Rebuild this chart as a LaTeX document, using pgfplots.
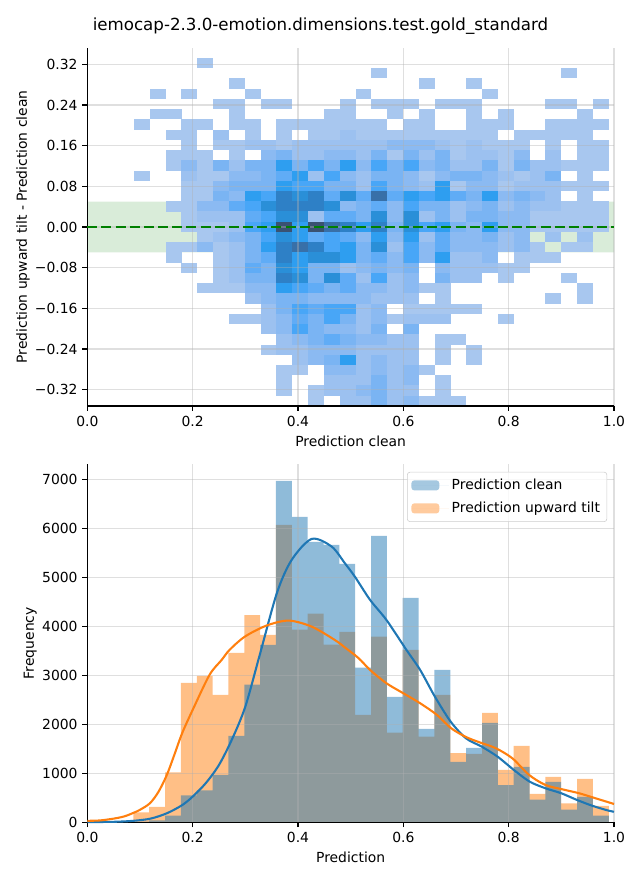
\documentclass[border=0pt]{standalone}
\usepackage{fontspec}
\setmainfont{DejaVu Sans}
\usepackage{pgfplots}
\pgfplotsset{compat=1.18}
\usepackage{pgfplotstable}

\definecolor{C0}{HTML}{1F77B4}
\definecolor{C1}{HTML}{FF7F0E}
\definecolor{C0h}{HTML}{8FBBD9}
\definecolor{C1h}{HTML}{FFBF86}
\definecolor{gridc}{HTML}{B0B0B0}
\definecolor{band}{HTML}{D9ECD9}
\definecolor{dgreen}{HTML}{008000}
\definecolor{La}{RGB}{168,199,239}
\definecolor{Lb}{RGB}{156,193,240}
\definecolor{Lc}{RGB}{139,186,242}
\definecolor{Ld}{RGB}{122,180,243}
\definecolor{Le}{RGB}{96,172,246}
\definecolor{Lf}{RGB}{72,166,247}
\definecolor{Lg}{RGB}{46,158,240}
\definecolor{Lh}{RGB}{42,143,216}
\definecolor{Li}{RGB}{46,128,198}
\definecolor{Lj}{RGB}{56,112,168}
\definecolor{Lk}{RGB}{58,82,114}

\pgfdeclareplotmark{cell}{\pgfpathrectangle{\pgfpoint{-5.72bp}{-3.71bp}}{\pgfpoint{11.44bp}{7.42bp}}\pgfusepathqfill}

\pgfplotstableread{
x y l
0.2239 0.3223 a
0.5543 0.3022 a
0.9148 0.3022 a
0.2840 0.2821 a
0.6444 0.2821 a
0.7345 0.2821 a
0.1338 0.2620 a
0.1939 0.2620 a
0.3140 0.2620 a
0.5243 0.2620 a
0.7646 0.2620 a
0.2539 0.2418 a
0.2840 0.2418 a
0.3440 0.2418 a
0.3741 0.2418 a
0.4942 0.2418 a
0.5543 0.2418 a
0.5843 0.2418 a
0.6144 0.2418 a
0.6745 0.2418 a
0.7045 0.2418 a
0.7345 0.2418 a
0.8847 0.2418 a
0.9148 0.2418 a
0.9748 0.2418 a
0.1338 0.2217 a
0.1638 0.2217 a
0.2840 0.2217 a
0.4642 0.2217 a
0.4942 0.2217 a
0.5843 0.2217 a
0.6444 0.2217 a
0.7345 0.2217 a
0.7946 0.2217 a
0.9448 0.2217 a
0.1037 0.2016 a
0.1939 0.2016 a
0.2239 0.2016 a
0.2840 0.2016 a
0.3140 0.2016 a
0.3741 0.2016 a
0.4041 0.2016 a
0.4342 0.2016 a
0.4642 0.2016 a
0.4942 0.2016 a
0.5243 0.2016 a
0.5543 0.2016 a
0.6144 0.2016 a
0.6444 0.2016 a
0.7345 0.2016 a
0.7646 0.2016 a
0.7946 0.2016 a
0.8847 0.2016 a
0.9148 0.2016 a
0.9448 0.2016 a
0.9748 0.2016 a
0.1638 0.1814 a
0.1939 0.1814 a
0.2539 0.1814 b
0.3140 0.1814 a
0.3741 0.1814 a
0.4342 0.1814 a
0.4642 0.1814 a
0.4942 0.1814 b
0.5243 0.1814 a
0.5543 0.1814 a
0.5843 0.1814 a
0.6144 0.1814 a
0.6444 0.1814 a
0.6745 0.1814 a
0.7045 0.1814 a
0.7345 0.1814 a
0.7646 0.1814 a
0.8247 0.1814 a
0.8547 0.1814 a
0.8847 0.1814 a
0.9148 0.1814 a
0.9448 0.1814 a
0.1939 0.1613 a
0.2539 0.1613 a
0.2840 0.1613 a
0.3140 0.1613 b
0.3440 0.1613 b
0.3741 0.1613 a
0.4041 0.1613 b
0.4342 0.1613 b
0.4642 0.1613 b
0.4942 0.1613 b
0.5243 0.1613 b
0.5543 0.1613 b
0.5843 0.1613 c
0.6144 0.1613 c
0.6444 0.1613 c
0.6745 0.1613 b
0.7045 0.1613 a
0.7345 0.1613 b
0.7646 0.1613 a
0.7946 0.1613 a
0.8247 0.1613 a
0.8847 0.1613 a
0.9448 0.1613 a
0.9748 0.1613 a
0.1638 0.1412 a
0.1939 0.1412 a
0.2239 0.1412 a
0.2840 0.1412 a
0.3440 0.1412 c
0.3741 0.1412 d
0.4041 0.1412 b
0.4342 0.1412 b
0.4642 0.1412 c
0.4942 0.1412 c
0.5243 0.1412 b
0.5543 0.1412 d
0.5843 0.1412 a
0.6144 0.1412 d
0.6444 0.1412 b
0.6745 0.1412 d
0.7045 0.1412 a
0.7345 0.1412 b
0.7646 0.1412 b
0.7946 0.1412 a
0.8247 0.1412 c
0.8847 0.1412 b
0.9448 0.1412 a
0.9748 0.1412 a
0.1638 0.1211 a
0.1939 0.1211 c
0.2239 0.1211 a
0.2539 0.1211 d
0.2840 0.1211 b
0.3140 0.1211 d
0.3440 0.1211 d
0.3741 0.1211 g
0.4041 0.1211 d
0.4342 0.1211 f
0.4642 0.1211 d
0.4942 0.1211 g
0.5243 0.1211 c
0.5543 0.1211 f
0.5843 0.1211 d
0.6144 0.1211 f
0.6444 0.1211 c
0.6745 0.1211 d
0.7045 0.1211 b
0.7345 0.1211 b
0.7646 0.1211 d
0.7946 0.1211 a
0.8247 0.1211 d
0.8547 0.1211 b
0.8847 0.1211 b
0.9148 0.1211 a
0.9448 0.1211 a
0.9748 0.1211 a
0.1037 0.1009 a
0.1939 0.1009 b
0.2239 0.1009 a
0.2539 0.1009 a
0.2840 0.1009 c
0.3140 0.1009 c
0.3440 0.1009 d
0.3741 0.1009 e
0.4041 0.1009 g
0.4342 0.1009 b
0.4642 0.1009 f
0.4942 0.1009 c
0.5243 0.1009 b
0.5543 0.1009 d
0.5843 0.1009 d
0.6144 0.1009 c
0.6444 0.1009 a
0.6745 0.1009 c
0.7045 0.1009 d
0.7345 0.1009 d
0.7646 0.1009 c
0.7946 0.1009 b
0.8247 0.1009 a
0.8547 0.1009 b
0.8847 0.1009 d
0.9448 0.1009 a
0.1939 0.0808 a
0.2239 0.0808 a
0.2539 0.0808 c
0.2840 0.0808 d
0.3140 0.0808 d
0.3440 0.0808 d
0.3741 0.0808 g
0.4041 0.0808 f
0.4342 0.0808 f
0.4642 0.0808 d
0.4942 0.0808 d
0.5243 0.0808 b
0.5543 0.0808 f
0.5843 0.0808 d
0.6144 0.0808 c
0.6444 0.0808 b
0.6745 0.0808 g
0.7045 0.0808 a
0.7345 0.0808 c
0.7646 0.0808 c
0.7946 0.0808 a
0.8247 0.0808 b
0.8547 0.0808 b
0.8847 0.0808 b
0.9148 0.0808 a
0.9448 0.0808 a
0.9748 0.0808 a
0.1939 0.0607 a
0.2239 0.0607 a
0.2539 0.0607 d
0.2840 0.0607 c
0.3140 0.0607 g
0.3440 0.0607 f
0.3741 0.0607 i
0.4041 0.0607 h
0.4342 0.0607 i
0.4642 0.0607 e
0.4942 0.0607 h
0.5243 0.0607 e
0.5543 0.0607 j
0.5843 0.0607 e
0.6144 0.0607 g
0.6444 0.0607 f
0.6745 0.0607 g
0.7045 0.0607 e
0.7345 0.0607 d
0.7646 0.0607 g
0.7946 0.0607 c
0.8247 0.0607 d
0.8547 0.0607 c
0.8847 0.0607 b
0.9448 0.0607 a
0.1638 0.0405 a
0.1939 0.0405 a
0.2239 0.0405 c
0.2539 0.0405 c
0.2840 0.0405 e
0.3140 0.0405 f
0.3440 0.0405 h
0.3741 0.0405 i
0.4041 0.0405 i
0.4342 0.0405 i
0.4642 0.0405 h
0.4942 0.0405 c
0.5243 0.0405 d
0.5543 0.0405 e
0.5843 0.0405 c
0.6144 0.0405 f
0.6444 0.0405 d
0.6745 0.0405 d
0.7045 0.0405 b
0.7345 0.0405 c
0.7646 0.0405 d
0.7946 0.0405 b
0.8247 0.0405 c
0.8547 0.0405 b
0.8847 0.0405 b
0.9148 0.0405 a
0.9448 0.0405 a
0.9748 0.0405 a
0.1939 0.0204 a
0.2239 0.0204 b
0.2539 0.0204 b
0.2840 0.0204 b
0.3140 0.0204 e
0.3440 0.0204 f
0.3741 0.0204 h
0.4041 0.0204 h
0.4342 0.0204 b
0.4642 0.0204 e
0.4942 0.0204 e
0.5243 0.0204 d
0.5543 0.0204 h
0.5843 0.0204 c
0.6144 0.0204 h
0.6444 0.0204 b
0.6745 0.0204 d
0.7045 0.0204 b
0.7345 0.0204 d
0.7646 0.0204 d
0.7946 0.0204 c
0.8247 0.0204 c
0.8547 0.0204 a
0.8847 0.0204 a
0.9148 0.0204 a
0.9448 0.0204 a
0.9748 0.0204 a
0.1939 0.0003 a
0.2239 0.0003 a
0.2539 0.0003 a
0.2840 0.0003 b
0.3140 0.0003 f
0.3440 0.0003 g
0.3741 0.0003 k
0.4041 0.0003 g
0.4342 0.0003 k
0.4642 0.0003 j
0.4942 0.0003 i
0.5243 0.0003 g
0.5543 0.0003 i
0.5843 0.0003 d
0.6144 0.0003 h
0.6444 0.0003 f
0.6745 0.0003 g
0.7045 0.0003 d
0.7345 0.0003 c
0.7646 0.0003 g
0.7946 0.0003 c
0.8247 0.0003 c
0.8547 0.0003 a
0.8847 0.0003 a
0.9148 0.0003 a
0.9448 0.0003 a
0.9748 0.0003 a
0.2239 -0.0199 a
0.2539 -0.0199 b
0.2840 -0.0199 c
0.3140 -0.0199 d
0.3440 -0.0199 f
0.3741 -0.0199 h
0.4041 -0.0199 g
0.4342 -0.0199 e
0.4642 -0.0199 f
0.4942 -0.0199 e
0.5243 -0.0199 c
0.5543 -0.0199 g
0.5843 -0.0199 c
0.6144 -0.0199 g
0.6444 -0.0199 b
0.6745 -0.0199 e
0.7045 -0.0199 c
0.7345 -0.0199 c
0.7646 -0.0199 d
0.7946 -0.0199 b
0.8247 -0.0199 c
0.8847 -0.0199 b
0.9448 -0.0199 b
0.1638 -0.0400 a
0.1939 -0.0400 a
0.2239 -0.0400 c
0.2539 -0.0400 a
0.2840 -0.0400 b
0.3140 -0.0400 d
0.3440 -0.0400 g
0.3741 -0.0400 i
0.4041 -0.0400 j
0.4342 -0.0400 i
0.4642 -0.0400 f
0.4942 -0.0400 g
0.5243 -0.0400 d
0.5543 -0.0400 h
0.5843 -0.0400 b
0.6144 -0.0400 f
0.6444 -0.0400 c
0.6745 -0.0400 e
0.7045 -0.0400 c
0.7345 -0.0400 c
0.7646 -0.0400 c
0.7946 -0.0400 b
0.8247 -0.0400 c
0.8547 -0.0400 a
0.9148 -0.0400 a
0.9448 -0.0400 a
0.1638 -0.0601 a
0.2539 -0.0601 a
0.2840 -0.0601 b
0.3140 -0.0601 d
0.3440 -0.0601 e
0.3741 -0.0601 i
0.4041 -0.0601 g
0.4342 -0.0601 h
0.4642 -0.0601 h
0.4942 -0.0601 g
0.5243 -0.0601 d
0.5543 -0.0601 e
0.5843 -0.0601 c
0.6144 -0.0601 f
0.6444 -0.0601 c
0.6745 -0.0601 g
0.7045 -0.0601 b
0.7345 -0.0601 b
0.7646 -0.0601 c
0.8247 -0.0601 a
0.8547 -0.0601 a
0.8847 -0.0601 a
0.1939 -0.0802 a
0.2539 -0.0802 a
0.2840 -0.0802 b
0.3140 -0.0802 e
0.3440 -0.0802 d
0.3741 -0.0802 h
0.4041 -0.0802 g
0.4342 -0.0802 d
0.4642 -0.0802 d
0.4942 -0.0802 b
0.5243 -0.0802 c
0.5543 -0.0802 d
0.5843 -0.0802 c
0.6144 -0.0802 d
0.6745 -0.0802 c
0.7045 -0.0802 b
0.7345 -0.0802 b
0.7646 -0.0802 b
0.7946 -0.0802 a
0.8247 -0.0802 a
0.2539 -0.1004 a
0.2840 -0.1004 b
0.3140 -0.1004 d
0.3440 -0.1004 d
0.3741 -0.1004 i
0.4041 -0.1004 h
0.4342 -0.1004 d
0.4642 -0.1004 h
0.4942 -0.1004 e
0.5243 -0.1004 b
0.5543 -0.1004 f
0.5843 -0.1004 b
0.6144 -0.1004 c
0.6745 -0.1004 d
0.7045 -0.1004 b
0.7345 -0.1004 b
0.7946 -0.1004 a
0.9148 -0.1004 a
0.2239 -0.1205 a
0.2539 -0.1205 a
0.2840 -0.1205 a
0.3140 -0.1205 c
0.3440 -0.1205 c
0.3741 -0.1205 g
0.4041 -0.1205 f
0.4342 -0.1205 e
0.4642 -0.1205 d
0.4942 -0.1205 e
0.5243 -0.1205 c
0.5543 -0.1205 c
0.5843 -0.1205 b
0.6144 -0.1205 c
0.6444 -0.1205 a
0.6745 -0.1205 a
0.9448 -0.1205 a
0.3140 -0.1406 b
0.3440 -0.1406 c
0.3741 -0.1406 d
0.4041 -0.1406 d
0.4342 -0.1406 c
0.4642 -0.1406 c
0.4942 -0.1406 c
0.5243 -0.1406 c
0.5543 -0.1406 b
0.5843 -0.1406 b
0.6144 -0.1406 b
0.6745 -0.1406 a
0.8847 -0.1406 a
0.9448 -0.1406 a
0.3440 -0.1608 b
0.3741 -0.1608 d
0.4041 -0.1608 f
0.4342 -0.1608 e
0.4642 -0.1608 f
0.4942 -0.1608 f
0.5243 -0.1608 b
0.5543 -0.1608 c
0.6144 -0.1608 a
0.6444 -0.1608 a
0.6745 -0.1608 a
0.7045 -0.1608 a
0.7345 -0.1608 a
0.2840 -0.1809 a
0.3140 -0.1809 a
0.3440 -0.1809 b
0.3741 -0.1809 c
0.4041 -0.1809 e
0.4342 -0.1809 d
0.4642 -0.1809 f
0.4942 -0.1809 d
0.5243 -0.1809 b
0.5543 -0.1809 c
0.5843 -0.1809 a
0.6144 -0.1809 b
0.6444 -0.1809 b
0.6745 -0.1809 b
0.7946 -0.1809 a
0.3440 -0.2010 b
0.3741 -0.2010 c
0.4041 -0.2010 f
0.4342 -0.2010 d
0.4642 -0.2010 c
0.4942 -0.2010 c
0.5243 -0.2010 b
0.5543 -0.2010 d
0.6144 -0.2010 d
0.3741 -0.2211 b
0.4041 -0.2211 c
0.4342 -0.2211 d
0.4642 -0.2211 e
0.4942 -0.2211 d
0.5243 -0.2211 c
0.5543 -0.2211 c
0.5843 -0.2211 b
0.6144 -0.2211 b
0.6745 -0.2211 a
0.7045 -0.2211 a
0.3440 -0.2413 a
0.3741 -0.2413 b
0.4041 -0.2413 b
0.4342 -0.2413 c
0.4642 -0.2413 c
0.4942 -0.2413 c
0.5243 -0.2413 b
0.5543 -0.2413 b
0.5843 -0.2413 b
0.6144 -0.2413 b
0.6745 -0.2413 a
0.7345 -0.2413 a
0.4041 -0.2614 b
0.4342 -0.2614 c
0.4642 -0.2614 d
0.4942 -0.2614 g
0.5243 -0.2614 b
0.5543 -0.2614 c
0.5843 -0.2614 b
0.6144 -0.2614 b
0.6745 -0.2614 a
0.7345 -0.2614 a
0.3741 -0.2815 a
0.4041 -0.2815 a
0.4642 -0.2815 c
0.4942 -0.2815 c
0.5243 -0.2815 b
0.5543 -0.2815 c
0.5843 -0.2815 b
0.6144 -0.2815 c
0.6444 -0.2815 a
0.3741 -0.3017 a
0.4642 -0.3017 b
0.4942 -0.3017 b
0.5243 -0.3017 b
0.5543 -0.3017 d
0.5843 -0.3017 b
0.6144 -0.3017 c
0.6745 -0.3017 a
0.3741 -0.3218 a
0.4342 -0.3218 a
0.4642 -0.3218 b
0.4942 -0.3218 b
0.5243 -0.3218 c
0.5543 -0.3218 d
0.5843 -0.3218 b
0.6144 -0.3218 b
0.6745 -0.3218 a
0.4342 -0.3419 a
0.4942 -0.3419 b
0.5243 -0.3419 b
0.5543 -0.3419 d
0.5843 -0.3419 b
0.6144 -0.3419 c
0.6444 -0.3419 a
0.6745 -0.3419 a
0.7045 -0.3419 a
}\cells

\pgfplotstableread{
x clean tilt
0.0874 15 204
0.1175 40 313
0.1476 136 1020
0.1777 551 2843
0.2078 650 2986
0.2379 966 2600
0.2679 1762 3456
0.2980 2810 4230
0.3281 3620 3822
0.3582 6965 6067
0.3883 6231 3930
0.4184 5720 4257
0.4485 5659 3624
0.4786 5271 3884
0.5087 3155 2190
0.5388 5843 3788
0.5688 2557 1829
0.5989 4578 3516
0.6290 1905 1748
0.6591 3108 2598
0.6892 1231 1414
0.7193 1517 1394
0.7494 2027 2231
0.7795 761 1068
0.8096 1129 1558
0.8397 462 578
0.8697 823 925
0.8998 259 388
0.9299 520 884
0.9600 135 333
0.9901 0 0
}\hist

\pgfplotsset{
  mpl/.style={
    scale only axis, width=379.22bp,
    xmin=0, xmax=1, enlargelimits=false,
    axis x line*=bottom, axis y line*=left,
    tick align=outside,
    major tick length=3.5bp,
    every tick/.style={black, line width=0.8bp},
    axis line style={line width=0.8bp},
    xmajorgrids, ymajorgrids,
    grid style={gridc, line width=0.8bp, opacity=0.4},
    tick label style={font=\fontsize{10bp}{12bp}\selectfont},
    label style={font=\fontsize{10bp}{12bp}\selectfont},
    xtick={0,0.2,0.4,0.6,0.8,1}, xticklabels={0.0,0.2,0.4,0.6,0.8,1.0},
    set layers=axis on top, axis on top,
    ylabel shift=-3bp,
  }
}

\begin{document}
\begin{tikzpicture}
\path (0,0) rectangle (460.8bp,633.6bp);
\node[anchor=base, font=\fontsize{12bp}{14bp}\selectfont] at (230.76bp,611.28bp) {iemocap-2.3.0-emotion.dimensions.test.gold\_standard};

\begin{axis}[mpl, at={(62.86bp,341.28bp)}, anchor=south west, height=257.76bp,
  ymin=-0.352, ymax=0.352,
  ytick={-0.32,-0.24,-0.16,-0.08,0,0.08,0.16,0.24,0.32},
  yticklabels={−0.32,−0.24,−0.16,−0.08,0.00,0.08,0.16,0.24,0.32},
  xlabel={Prediction clean},
  ylabel={Prediction upward tilt - Prediction clean}]
\addplot[fill=band, draw=none, forget plot] coordinates {(0,-0.05) (1,-0.05) (1,0.05) (0,0.05) (0,-0.05)};
\addplot[scatter, only marks, mark=cell, point meta=explicit symbolic,
  scatter/classes={a={fill=La},b={fill=Lb},c={fill=Lc},d={fill=Ld},e={fill=Le},f={fill=Lf},g={fill=Lg},h={fill=Lh},i={fill=Li},j={fill=Lj},k={fill=Lk}}]
  table[x=x, y=y, meta=l] {\cells};
\addplot[dgreen, line width=1.6bp, dash pattern=on 7.2bp off 3bp, on layer=axis foreground] coordinates {(0,0) (1,0)};
\end{axis}

\begin{axis}[mpl, at={(62.86bp,41.54bp)}, anchor=south west, height=258bp,
  ymin=0, ymax=7312,
  ytick={0,1000,2000,3000,4000,5000,6000,7000},
  yticklabels={0,1000,2000,3000,4000,5000,6000,7000},
  scaled y ticks=false,
  xlabel={Prediction}, ylabel={Frequency},
  legend image code/.code={\fill[#1] (0bp,-3.6bp) rectangle (20bp,3.6bp); \path (0bp,0bp) -- (27bp,0bp);},
  legend style={at={(0.987,0.978)}, anchor=north east, draw=black!20, rounded corners=2bp,
    fill=white, fill opacity=0.8, text opacity=1, font=\fontsize{10bp}{12bp}\selectfont,
    inner xsep=3bp, inner ysep=3bp, row sep=3.5bp, cells={anchor=west}}]
\addlegendimage{fill=C0h, draw=none}
\addlegendentry{Prediction clean}
\addlegendimage{fill=C1h, draw=none}
\addlegendentry{Prediction upward tilt}
\addplot[ybar interval, fill=C1, fill opacity=0.5, draw=none, forget plot] table[x=x, y=tilt] {\hist};
\addplot[ybar interval, fill=C0, fill opacity=0.5, draw=none, forget plot] table[x=x, y=clean] {\hist};
\addplot[C0, line width=1.5bp, smooth, forget plot, on layer=axis foreground] coordinates {
(0,5) (0.05,10) (0.087,30) (0.12,75) (0.151,184) (0.18,350) (0.2,524) (0.225,800) (0.25,1170) (0.275,1700) (0.3,2360) (0.327,3400) (0.36,4680) (0.388,5354) (0.426,5782) (0.464,5625) (0.489,5286) (0.508,5012) (0.537,4537) (0.568,4128) (0.606,3516) (0.632,3108) (0.66,2563) (0.69,2053) (0.719,1714) (0.749,1543) (0.779,1339) (0.81,1067) (0.84,829) (0.87,694) (0.9,592) (0.93,455) (0.96,333) (0.99,237) (1.0,216)};
\addplot[C1, line width=1.5bp, smooth, forget plot, on layer=axis foreground] coordinates {
(0,30) (0.024,38) (0.05,75) (0.07,120) (0.087,190) (0.1,255) (0.119,390) (0.135,620) (0.151,966) (0.165,1370) (0.18,1816) (0.2,2293) (0.232,3007) (0.255,3312) (0.27,3517) (0.299,3788) (0.34,4013) (0.382,4116) (0.426,3993) (0.47,3720) (0.49,3560) (0.515,3350) (0.537,3108) (0.568,2837) (0.6,2633) (0.632,2429) (0.664,2190) (0.691,1918) (0.72,1735) (0.75,1612) (0.776,1510) (0.807,1306) (0.839,965) (0.87,761) (0.902,673) (0.934,592) (0.965,490) (1.0,374)};
\end{axis}
\end{tikzpicture}
\end{document}
